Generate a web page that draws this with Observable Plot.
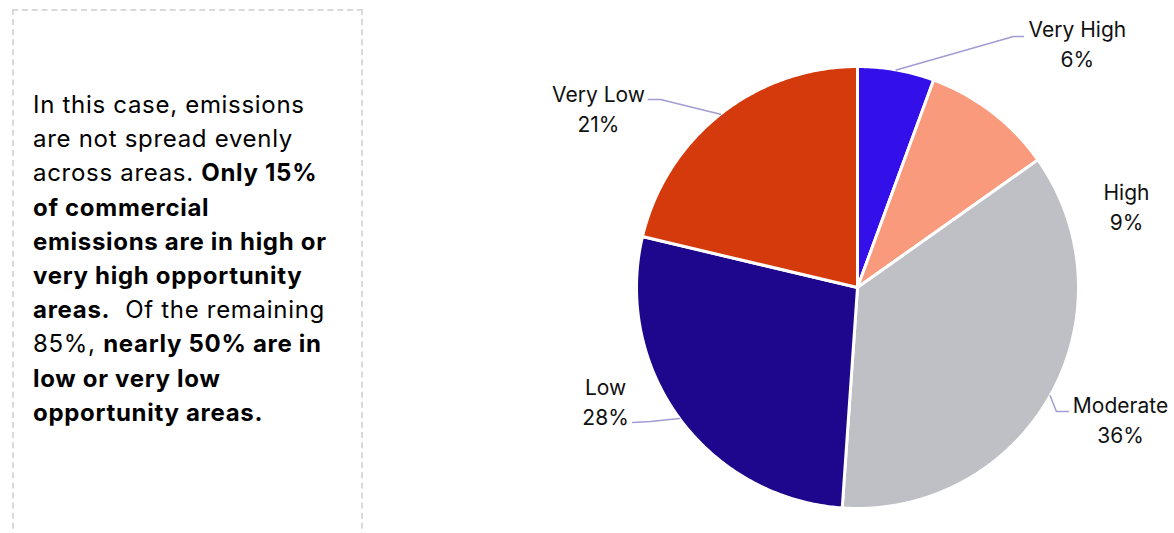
<!DOCTYPE html>
<html>
<head>
<meta charset="utf-8">
<script src="https://cdn.jsdelivr.net/npm/d3@7"></script>
<script src="https://cdn.jsdelivr.net/npm/@observablehq/plot@0.6"></script>
<style>
  html, body { margin: 0; padding: 0; background: #fff; }
  #wrap { position: relative; width: 1174px; height: 533px; overflow: hidden; }
  #panel {
    position: absolute; left: 12px; top: 9px; width: 351px; height: 560px;
    border: 2px dashed #d9d9d9; box-sizing: border-box;
  }
  #note {
    position: absolute; left: 33px; top: 88px;
    font-family: Inter, "Open Sans", sans-serif; font-size: 24px; line-height: 34.2px;
    color: #000; white-space: nowrap; letter-spacing: 0.7px;
  }
  #note b { font-weight: 700; }
  #chart { position: absolute; left: 0; top: 0; }
</style>
</head>
<body>
<div id="wrap">
  <div id="panel"></div>
  <div id="note">In this case, emissions<br>are not spread evenly<br>across areas. <b>Only 15%</b><br><b>of commercial</b><br><b>emissions are in high or</b><br><b>very high opportunity</b><br><b>areas.</b>&nbsp; Of the remaining<br>85%, <b>nearly 50% are in</b><br><b>low or very low</b><br><b>opportunity areas.</b></div>
  <div id="chart"></div>
</div>
<script>
// ---- data ----
const categories = ["Very High", "High", "Moderate", "Low", "Very Low"];
const shares = [5.6, 9.6, 35.9, 27.6, 21.3];
const pctLabels = ["6%", "9%", "36%", "28%", "21%"];
const colors = ["#3310EA", "#F99A7C", "#BFBFC6", "#1E078C", "#D53A0C"];

// ---- label layout (in units of the pie radius, relative to centre) ----
const labelLayout = {
  "Very High": {x: 0.995, y: 1.11, leader: [[0.751, 1.136], [0.706, 1.136]]},
  "High":      {x: 1.217, y: 0.371, leader: null},
  "Moderate":  {x: 1.19,  y: -0.593, leader: [[0.955, -0.561], [0.900, -0.561]]},
  "Low":       {x: -1.14, y: -0.511, leader: [[-1.018, -0.611], [-0.937, -0.606]]},
  "Very Low":  {x: -1.172, y: 0.814, leader: [[-0.946, 0.851], [-0.891, 0.851]]}
};

const rows = categories.map((c, i) => ({category: c, value: shares[i], label: pctLabels[i]}));
const arcs = d3.pie().sort(null).value(d => d.value).startAngle(0).endAngle(2 * Math.PI)(rows);

// slice polygons
const slicePts = [];
for (const a of arcs) {
  const c = a.data.category;
  slicePts.push({category: c, x: 0, y: 0});
  const n = Math.max(2, Math.ceil((a.endAngle - a.startAngle) / (Math.PI / 360)));
  for (let k = 0; k <= n; k++) {
    const t = a.startAngle + (a.endAngle - a.startAngle) * k / n;
    slicePts.push({category: c, x: Math.sin(t), y: Math.cos(t)});
  }
  slicePts.push({category: c, x: 0, y: 0});
}

// labels and leaders
const labels = arcs.map(a => ({
  category: a.data.category,
  x: labelLayout[a.data.category].x,
  y: labelLayout[a.data.category].y,
  text: a.data.category + "\n" + a.data.label
}));
const leaderPts = [];
for (const a of arcs) {
  const L = labelLayout[a.data.category].leader;
  if (!L) continue;
  const m = (a.startAngle + a.endAngle) / 2;
  for (const p of L) leaderPts.push({category: a.data.category, x: p[0], y: p[1]});
  leaderPts.push({category: a.data.category, x: Math.sin(m) * 1.0, y: Math.cos(m) * 1.0});
}

const cx = 857, cy = 287, R = 221;
const chart = Plot.plot({
  width: 1174,
  height: 533,
  margin: 0,
  x: {domain: [-1, 1], range: [cx - R, cx + R], axis: null},
  y: {domain: [-1, 1], range: [cy + R, cy - R], axis: null},
  color: {domain: categories, range: colors},
  style: {fontFamily: "Inter, 'Open Sans', sans-serif", background: "transparent"},
  marks: [
    Plot.line(slicePts, {x: "x", y: "y", z: "category", fill: "category", stroke: "white", strokeWidth: 3, strokeLinejoin: "round"}),
    Plot.line(leaderPts, {x: "x", y: "y", z: "category", stroke: "#a19cd3", strokeWidth: 1.5}),
    Plot.text(labels, {x: "x", y: "y", text: "text", fontSize: 21, lineHeight: 1.43, fill: "#111", textAnchor: "middle", lineAnchor: "middle"})
  ]
});
document.getElementById("chart").appendChild(chart);
</script>
</body>
</html>
